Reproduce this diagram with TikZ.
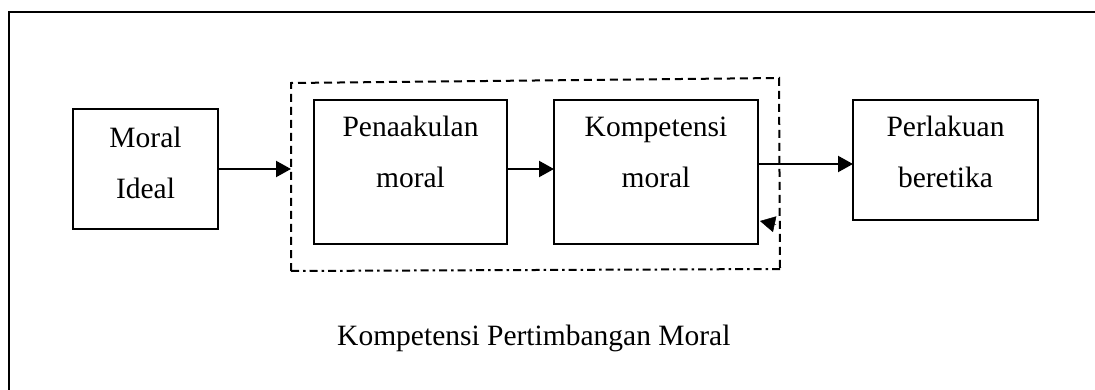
\documentclass[tikz,border=0pt]{standalone}
\usepackage{fontspec}
\setmainfont{Liberation Serif}
\usetikzlibrary{arrows.meta}
\newcommand{\bxtext}[4]{\parbox[c][#2][t]{#1}{\centering\rule{0pt}{#3}#4}}
\begin{document}
\begin{tikzpicture}[x=1pt,y=-1pt,
  boxn/.style={draw,line width=2pt,inner sep=0pt,outer sep=0pt,
    font=\fontsize{29.5}{51}\selectfont},
  arr/.style={line width=2.2pt,-{Triangle[length=15pt,width=16pt]}},
  dsh/.style={line width=2pt,dash pattern=on 8pt off 5pt},
  dsd/.style={line width=2pt,dash pattern=on 8pt off 4pt on 2.5pt off 4pt}]
\useasboundingbox (0,0) rectangle (1095,390);
% outer frame
\draw[line width=1.8pt] (9,390) -- (9,12) -- (1095,12);
% boxes
\node[boxn] (mi) at (145.5,169) {\bxtext{145pt}{120pt}{39pt}{Moral\\Ideal}};
\node[boxn] (pen) at (410.5,172) {\bxtext{193pt}{144pt}{37pt}{Penaakulan\\moral}};
\node[boxn] (komp) at (656,172) {\bxtext{204pt}{144pt}{37pt}{Kompetensi\\moral}};
\node[boxn] (perl) at (945.5,160) {\bxtext{185pt}{120pt}{37pt}{Perlakuan\\beretika}};
% dashed frame
\coordinate (dtl) at (291,83);
\coordinate (dtr) at (779,78);
\coordinate (dbr) at (780,269);
\coordinate (dbl) at (291,271);
\draw[dsh] (dbl) -- (dtl) -- (dtr) -- (dbr);
\draw[dsd] (dbl) -- (dbr);
% connectors
\draw[arr] (mi.east) -- (mi.east -| dtl);
\draw[arr] ([yshift=3pt]pen.east) coordinate (p1) -- (p1 -| komp.west);
\draw[arr] ([yshift=8pt]komp.east) coordinate (k1) -- (k1 -| perl.west);
\coordinate (fb) at (776,224.5);
\coordinate (fbt) at (760,221);
\draw[arr,line width=0.5pt] (fb) -- (fbt);
% caption
\node[anchor=base west,inner sep=0pt,font=\fontsize{29.5}{36}\selectfont] (cap) at (337,345) {Kompetensi Pertimbangan Moral};
\end{tikzpicture}
\end{document}
